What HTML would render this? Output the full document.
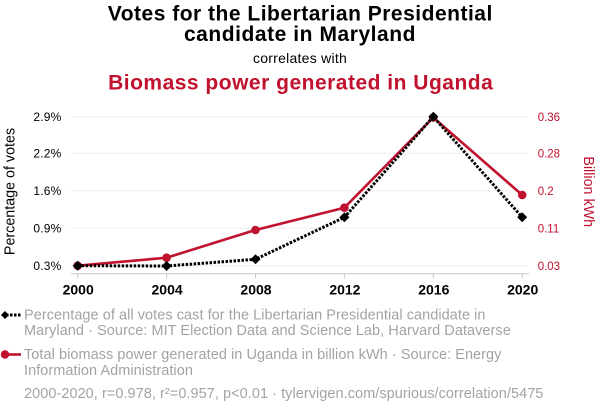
<!DOCTYPE html>
<html>
<head>
<meta charset="utf-8">
<style>
  html,body{margin:0;padding:0;background:#fff;}
  body{width:600px;height:414px;overflow:hidden;}
  svg{display:block;font-family:"Liberation Sans",Arial,Helvetica,sans-serif;}
</style>
</head>
<body>
<svg width="600" height="414" viewBox="0 0 600 414" xmlns="http://www.w3.org/2000/svg">
  <!-- Titles -->
  <text x="300.3" y="20.5" text-anchor="middle" font-size="21" font-weight="bold" fill="#000" letter-spacing="0.5">Votes for the Libertarian Presidential</text>
  <text x="300" y="41" text-anchor="middle" font-size="21" font-weight="bold" fill="#000" letter-spacing="0.55">candidate in Maryland</text>
  <text x="300" y="63" text-anchor="middle" font-size="14" fill="#000" letter-spacing="0.25">correlates with</text>
  <text x="300.7" y="89.5" text-anchor="middle" font-size="21" font-weight="bold" fill="#c0122e" letter-spacing="0.5">Biomass power generated in Uganda</text>

  <!-- Gridlines -->
  <g stroke="#efefef" stroke-width="1">
    <line x1="71" y1="116.7" x2="528" y2="116.7"/>
    <line x1="71" y1="153.3" x2="528" y2="153.3"/>
    <line x1="71" y1="190.7" x2="528" y2="190.7"/>
    <line x1="71" y1="228.3" x2="528" y2="228.3"/>
    <line x1="71" y1="265.7" x2="528" y2="265.7"/>
  </g>
  <!-- x axis line and ticks -->
  <g stroke="#c8c8c8" stroke-width="1">
    <line x1="71" y1="273.7" x2="529" y2="273.7"/>
    <line x1="77.7" y1="273.7" x2="77.7" y2="278.5"/>
    <line x1="166.6" y1="273.7" x2="166.6" y2="278.5"/>
    <line x1="255.5" y1="273.7" x2="255.5" y2="278.5"/>
    <line x1="344.4" y1="273.7" x2="344.4" y2="278.5"/>
    <line x1="433.3" y1="273.7" x2="433.3" y2="278.5"/>
    <line x1="522.2" y1="273.7" x2="522.2" y2="278.5"/>
  </g>

  <!-- Left tick labels -->
  <g font-size="12" fill="#000" text-anchor="end" letter-spacing="0.2">
    <text x="61.5" y="121">2.9%</text>
    <text x="61.5" y="157.6">2.2%</text>
    <text x="61.5" y="195">1.6%</text>
    <text x="61.5" y="232.6">0.9%</text>
    <text x="61.5" y="270">0.3%</text>
  </g>
  <!-- Right tick labels -->
  <g font-size="11.5" fill="#c0122e">
    <text x="537.7" y="120.8">0.36</text>
    <text x="537.7" y="157.4">0.28</text>
    <text x="537.7" y="194.8">0.2</text>
    <text x="537.7" y="232.4">0.11</text>
    <text x="537.7" y="269.8">0.03</text>
  </g>
  <!-- X tick labels -->
  <g font-size="14" font-weight="bold" fill="#000" text-anchor="middle">
    <text x="78.2" y="294.5">2000</text>
    <text x="167.1" y="294.5">2004</text>
    <text x="256" y="294.5">2008</text>
    <text x="344.9" y="294.5">2012</text>
    <text x="433.8" y="294.5">2016</text>
    <text x="522.7" y="294.5">2020</text>
  </g>

  <!-- Axis titles -->
  <text transform="translate(14.5,191.5) rotate(-90)" text-anchor="middle" font-size="14.3" fill="#000">Percentage of votes</text>
  <text transform="translate(584,191.7) rotate(90)" text-anchor="middle" font-size="14.3" fill="#c0122e">Billion kWh</text>

  <!-- Red series -->
  <polyline points="77.7,265.7 166.6,257.7 255.5,230 344.4,207.7 433.3,117.5 522.2,195" fill="none" stroke="#c0122e" stroke-width="2.6" stroke-linejoin="round"/>
  <g fill="#c0122e">
    <circle cx="77.7" cy="265.7" r="4.3"/>
    <circle cx="166.6" cy="257.7" r="4.3"/>
    <circle cx="255.5" cy="230" r="4.3"/>
    <circle cx="344.4" cy="207.7" r="4.3"/>
    <circle cx="433.3" cy="117.5" r="4.3"/>
    <circle cx="522.2" cy="195" r="4.3"/>
  </g>

  <!-- Black series -->
  <polyline points="77.7,265.7 166.6,266 255.5,259.3 344.4,217.3 433.3,116.7 522.2,217.3" fill="none" stroke="#000" stroke-width="3" stroke-dasharray="2.5,1.5"/>
  <g fill="#000">
    <polygon points="77.7,260.7 82.7,265.7 77.7,270.7 72.7,265.7"/>
    <polygon points="166.6,261 171.6,266 166.6,271 161.6,266"/>
    <polygon points="255.5,254.3 260.5,259.3 255.5,264.3 250.5,259.3"/>
    <polygon points="344.4,212.3 349.4,217.3 344.4,222.3 339.4,217.3"/>
    <polygon points="433.3,111.7 438.3,116.7 433.3,121.7 428.3,116.7"/>
    <polygon points="522.2,212.3 527.2,217.3 522.2,222.3 517.2,217.3"/>
  </g>

  <!-- Legend -->
  <line x1="6" y1="315" x2="21" y2="315" stroke="#000" stroke-width="3" stroke-dasharray="2.5,1.5"/>
  <polygon points="5,311 9,315 5,319 1,315" fill="#000"/>
  <line x1="5" y1="354.5" x2="21" y2="354.5" stroke="#c0122e" stroke-width="2.6"/>
  <circle cx="5" cy="354.5" r="4.2" fill="#c0122e"/>

  <g font-size="14.5" fill="#a3a3a3" letter-spacing="0.05">
    <text x="24" y="319.5">Percentage of all votes cast for the Libertarian Presidential candidate in</text>
    <text x="24" y="335">Maryland · Source: MIT Election Data and Science Lab, Harvard Dataverse</text>
    <text x="24" y="359">Total biomass power generated in Uganda in billion kWh · Source: Energy</text>
    <text x="24" y="375">Information Administration</text>
    <text x="24" y="398">2000-2020, r=0.978, r²=0.957, p&lt;0.01 · tylervigen.com/spurious/correlation/5475</text>
  </g>
</svg>
</body>
</html>
